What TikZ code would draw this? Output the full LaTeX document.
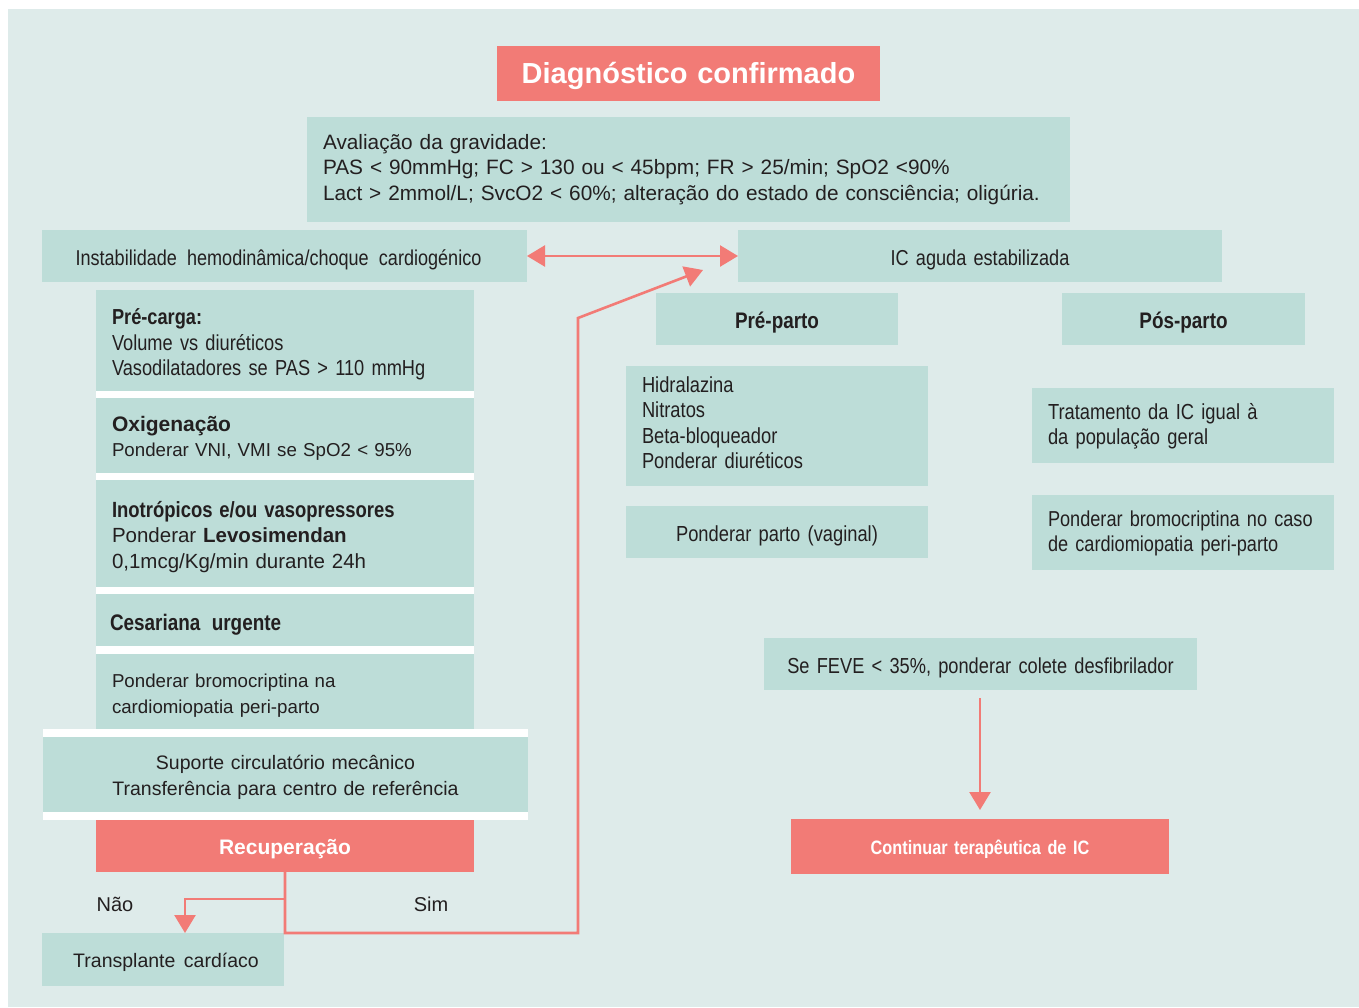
\documentclass[tikz,border=0pt]{standalone}
\usepackage{fontspec}
\setmainfont{Liberation Sans}
\newfontfamily\nf{Liberation Sans}[FakeStretch=0.84]
\usetikzlibrary{arrows.meta}
\definecolor{bgc}{HTML}{DEEBEA}
\definecolor{boxc}{HTML}{BDDDD8}
\definecolor{salm}{HTML}{F27B76}
\definecolor{ink}{HTML}{231F20}
\tikzset{
  base/.style={anchor=north west, inner xsep=16pt, inner ysep=0pt, outer sep=0pt, text=ink},
  tbox/.style={base, fill=boxc},
  sbox/.style={base, fill=salm, text=white},
  % lowers the text block inside its box
  dn/.style={execute at begin node={\rule{0pt}{#1}}},
  dn/.default=1.1em,
  nw/.style={font=\nf\fontsize{21.7}{25.5}\selectfont},
  link/.style={draw=salm, line width=2.6pt, line join=miter,
    -{Triangle[width=21pt,length=18pt]}},
  lab/.style={text=ink, font=\fontsize{20}{24}\selectfont, inner sep=0pt},
  sep/.style={fill=white},
}
\begin{document}
\begin{tikzpicture}[x=1pt,y=-1pt]
\useasboundingbox (0,0) rectangle (1359,1007);
\fill[bgc] (8,9) rectangle (1359,1007);

% header
\node[sbox, dn=0.88em, minimum width=383pt, minimum height=55pt, text width=351pt, align=center,
  font=\bfseries\fontsize{29}{32}\selectfont] (diag) at (497,46) {Diagnóstico confirmado};
\node[tbox, font=\fontsize{20.8}{25.3}\selectfont, minimum width=763pt, minimum height=105pt, text width=731pt, align=left] (grav) at (307,117)
  {Avaliação da gravidade:\\
   PAS < 90mmHg; FC > 130 ou < 45bpm; FR > 25/min; SpO2 <90\%\\
   Lact > 2mmol/L; SvcO2 < 60\%; alteração do estado de consciência; oligúria.};

% two main branches
\node[tbox, nw, dn, font=\nf\fontsize{21.5}{25.5}\selectfont, minimum width=485pt, minimum height=52pt, text width=453pt, align=center] (inst) at (42,230)
  {Instabilidade\hspace{3pt} hemodinâmica/choque\hspace{3pt} cardiogénico\hspace*{12pt}};
\node[tbox, nw, dn, font=\nf\fontsize{21.6}{25.5}\selectfont, minimum width=484pt, minimum height=52pt, text width=452pt, align=center] (icag) at (738,230)
  {IC aguda estabilizada};

% left column: separators
\fill[sep] (96,391) rectangle (474,398);
\fill[sep] (96,473) rectangle (474,480);
\fill[sep] (96,587) rectangle (474,594);
\fill[sep] (96,646) rectangle (474,654);
\fill[sep] (43,729) rectangle (528,737);
\fill[sep] (43,812) rectangle (528,820);

% left column: steps
\node[tbox, nw, dn, minimum width=378pt, minimum height=101pt, text width=346pt, align=left] (prec) at (96,290)
  {{\bfseries Pré-carga:}\\ Volume vs diuréticos\\ Vasodilatadores se PAS > 110 mmHg};
\node[tbox, dn, font=\fontsize{18.7}{25.5}\selectfont, minimum width=378pt, minimum height=75pt, text width=346pt, align=left] (oxig) at (96,398)
  {{\bfseries\fontsize{21}{25.5}\selectfont Oxigenação}\\ Ponderar VNI, VMI se SpO2 < 95\%};
\node[tbox, dn, font=\fontsize{20.5}{25.5}\selectfont, minimum width=378pt, minimum height=107pt, text width=346pt, align=left] (inot) at (96,480)
  {{\nf\bfseries\fontsize{22}{25.5}\selectfont Inotrópicos e/ou vasopressores}\\
   Ponderar {\bfseries Levosimendan}\\ 0,1mcg/Kg/min durante 24h};
\node[tbox, dn, font=\nf\fontsize{22.5}{25.5}\selectfont, inner xsep=14pt, minimum width=378pt, minimum height=52pt, text width=350pt, align=left] (ces) at (96,594)
  {\bfseries Cesariana\hspace{4pt} urgente};
\node[tbox, dn=1.15em, font=\fontsize{18.7}{25.5}\selectfont, minimum width=378pt, minimum height=75pt, text width=346pt, align=left] (bromL) at (96,654)
  {Ponderar bromocriptina na\\ cardiomiopatia peri-parto};
\node[tbox, dn=1.05em, font=\fontsize{19.5}{25.5}\selectfont, minimum width=485pt, minimum height=75pt, text width=453pt, align=center] (sup) at (43,737)
  {Suporte circulatório mecânico\\ Transferência para centro de referência};
\node[sbox, dn=1.05em, font=\bfseries\fontsize{21}{24}\selectfont, minimum width=378pt, minimum height=52pt, text width=346pt, align=center] (recup) at (96,820)
  {Recuperação};
\node[tbox, dn=1.05em, font=\fontsize{19.5}{25.5}\selectfont, inner xsep=8pt, minimum width=242pt, minimum height=53pt, text width=226pt, align=center] (transp) at (42,933)
  {\hspace*{6pt}Transplante\hspace{2pt} cardíaco};

\node[lab] (nao) at (115,904) {Não};
\node[lab] (sim) at (431,904) {Sim};

% right side
\node[tbox, dn=1.05em, font=\nf\bfseries\fontsize{22.5}{25.5}\selectfont, minimum width=242pt, minimum height=52pt, text width=210pt, align=center] (prep) at (656,293)
  {Pré-parto};
\node[tbox, dn=1.05em, font=\nf\bfseries\fontsize{22.5}{25.5}\selectfont, minimum width=243pt, minimum height=52pt, text width=211pt, align=center] (posp) at (1062,293)
  {Pós-parto};
\node[tbox, nw, font=\nf\fontsize{21.8}{25.4}\selectfont, execute at end node={\rule[-0.33em]{0pt}{0.33em}},
  minimum width=302pt, minimum height=120pt, text width=270pt, align=left] (hidr) at (626,366)
  {Hidralazina\\ Nitratos\\ Beta-bloqueador\\ Ponderar diuréticos};
\node[tbox, nw, dn=1.05em, font=\nf\fontsize{21.8}{25.5}\selectfont, minimum width=302pt, minimum height=52pt, text width=270pt, align=center] (parto) at (626,506)
  {Ponderar parto (vaginal)};
\node[tbox, nw, dn=0.85em, font=\nf\fontsize{21.8}{25}\selectfont, minimum width=302pt, minimum height=75pt, text width=270pt, align=left] (trat) at (1032,388)
  {Tratamento da IC igual à\\ da população geral};
\node[tbox, nw, dn=0.85em, font=\nf\fontsize{21.6}{25}\selectfont, minimum width=302pt, minimum height=75pt, text width=270pt, align=left] (bromR) at (1032,495)
  {Ponderar bromocriptina no caso\\ de cardiomiopatia peri-parto};
\node[tbox, nw, dn, minimum width=433pt, minimum height=52pt, text width=401pt, align=center] (feve) at (764,638)
  {Se FEVE < 35\%, ponderar colete desfibrilador};
\node[sbox, dn=1.05em, font=\nf\bfseries\fontsize{19.4}{24}\selectfont, minimum width=378pt, minimum height=55pt, text width=346pt, align=center] (cont) at (791,819)
  {Continuar terapêutica de IC};

% connectors
\draw[link, {Triangle[width=21pt,length=18pt]}-{Triangle[width=21pt,length=18pt]}] (inst.east) -- (icag.west);

\coordinate (j1) at (285,933);
\coordinate (j2) at (578,933);
\coordinate (j3) at (578,318);
\coordinate (tip) at (703,270);
\draw[link] (recup.south) -- (j1) -- (j2) -- (j3) -- (tip);

\coordinate (b1) at (285,899);
\coordinate (b2) at (185,899);
\draw[link] (b1) -- (b2) -- (b2 |- transp.north);

\coordinate (f1) at (980,698);
\draw[link, shorten >=9pt] (f1) -- (cont.north);
\end{tikzpicture}
\end{document}
